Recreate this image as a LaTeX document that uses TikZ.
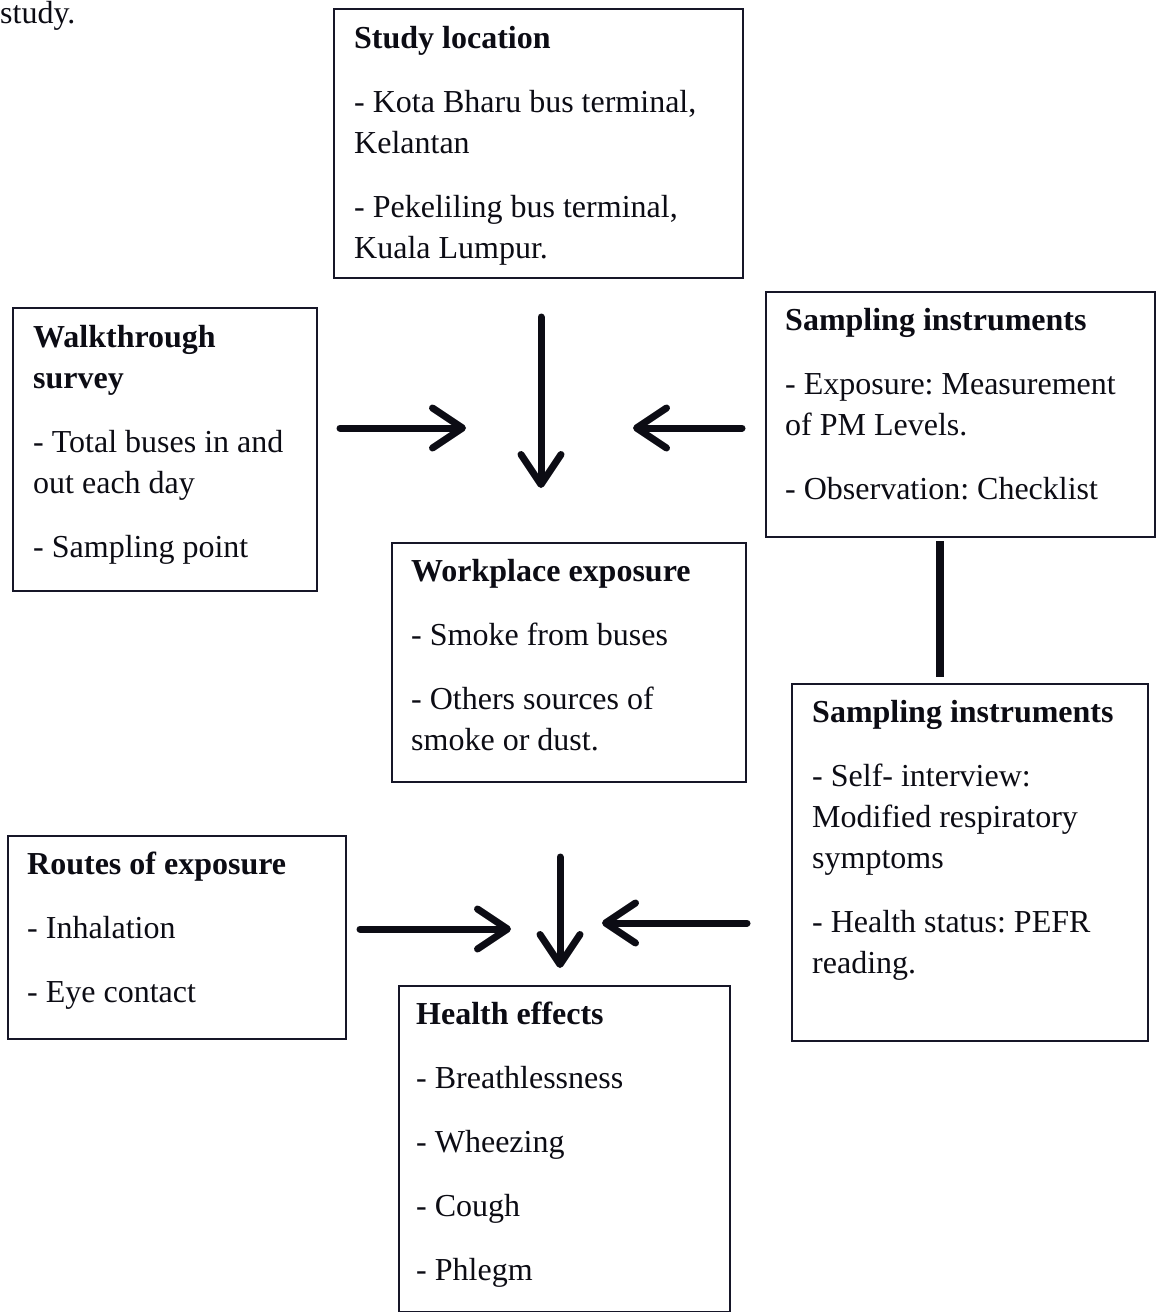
\documentclass[tikz,border=0pt]{standalone}
\usepackage{fontspec}
\setmainfont{Liberation Serif}
\usetikzlibrary{arrows.meta}
\definecolor{boxcol}{RGB}{22,22,40}
\definecolor{inkcol}{RGB}{12,12,20}
\newcommand{\boxtext}[2]{\parbox[t]{#1}{\raggedright\frenchspacing\parindent0pt\parskip23pt #2}}
\tikzset{
  box/.style={draw=boxcol, line width=2pt, inner sep=0pt, anchor=north west},
  txt/.style={anchor=base west, inner sep=0pt, text=inkcol, font=\fontsize{32}{41}\selectfont},
  arr/.style={draw=inkcol, line width=7pt, line cap=round, -{Straight Barb[length=30pt,width=40pt,round]}},
  conn/.style={draw=inkcol, line width=8pt},
}
\begin{document}
\begin{tikzpicture}[x=1pt,y=-1pt]
\useasboundingbox (0,0) rectangle (1157,1312);
\fill[white] (0,0) rectangle (1157,1312);
% text at top left
\node[txt] (study) at (0,23) {study.};
% boxes
\node[box, minimum width=409pt, minimum height=269pt] (b1) at (333,8) {};
\node[box, minimum width=304pt, minimum height=283pt] (b2) at (12,307) {};
\node[box, minimum width=389pt, minimum height=245pt] (b3) at (765,291) {};
\node[box, minimum width=354pt, minimum height=239pt] (b4) at (391,542) {};
\node[box, minimum width=356pt, minimum height=357pt] (b5) at (791,683) {};
\node[box, minimum width=338pt, minimum height=203pt] (b6) at (7,835) {};
\node[box, minimum width=331pt, minimum height=326pt] (b7) at (398,985) {};
% texts
\node[txt] (t1) at (354,48) {\boxtext{380pt}{\textbf{Study location}\par
- Kota Bharu bus terminal,\\Kelantan\par
- Pekeliling bus terminal,\\Kuala Lumpur.}};
\node[txt] (t2) at (33,347) {\boxtext{280pt}{\textbf{Walkthrough}\\\textbf{survey}\par
- Total buses in and\\out each day\par
- Sampling point}};
\node[txt] (t3) at (785,330) {\boxtext{365pt}{\textbf{Sampling instruments}\par
- Exposure: Measurement\\of PM Levels.\par
- Observation: Checklist}};
\node[txt] (t4) at (411,581) {\boxtext{330pt}{\textbf{Workplace exposure}\par
- Smoke from buses\par
- Others sources of\\smoke or dust.}};
\node[txt] (t5) at (812,722) {\boxtext{332pt}{\textbf{Sampling instruments}\par
- Self- interview:\\Modified respiratory\\symptoms\par
- Health status: PEFR\\reading.}};
\node[txt] (t6) at (27,874) {\boxtext{315pt}{\textbf{Routes of exposure}\par
- Inhalation\par
- Eye contact}};
\node[txt] (t7) at (416,1024) {\boxtext{310pt}{\textbf{Health effects}\par
- Breathlessness\par
- Wheezing\par
- Cough\par
- Phlegm}};
% free arrow end points
\coordinate (a1s) at (541,317);
\coordinate (a1e) at (541,488);
\coordinate (a2s) at (340,428);
\coordinate (a2e) at (466,428);
\coordinate (a3s) at (742,428);
\coordinate (a3e) at (633,428);
\coordinate (a4s) at (560,857);
\coordinate (a4e) at (560,968);
\coordinate (a5s) at (360,929);
\coordinate (a5e) at (511,929);
\coordinate (a6s) at (747,923);
\coordinate (a6e) at (602,923);
\coordinate (lx) at (940,0);
% connectors
\draw[arr] (a1s) -- (a1e);
\draw[arr] (a2s) -- (a2e);
\draw[arr] (a3s) -- (a3e);
\draw[arr] (a4s) -- (a4e);
\draw[arr] (a5s) -- (a5e);
\draw[arr] (a6s) -- (a6e);
\draw[conn, shorten <=3pt, shorten >=6pt] (b3.south -| lx) -- (b5.north -| lx);
\end{tikzpicture}
\end{document}
